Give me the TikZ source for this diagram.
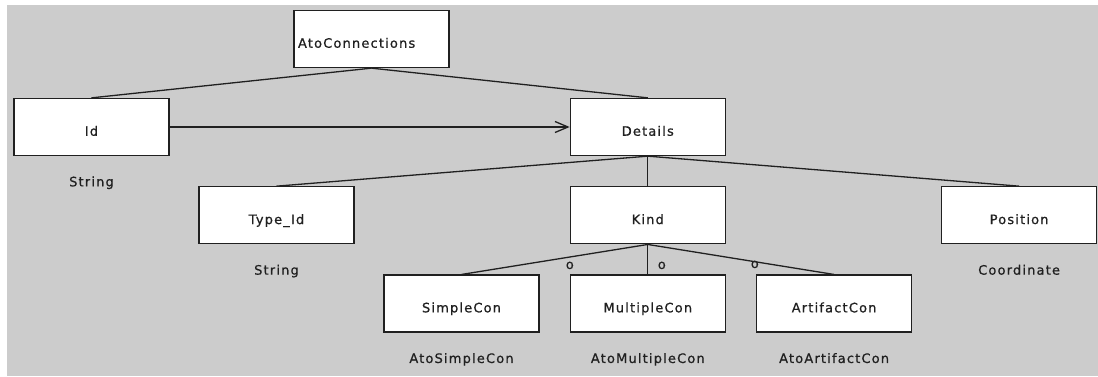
\documentclass[tikz,border=0pt]{standalone}
\usepackage{fontspec}
\newfontfamily\diafont{DejaVu Sans}[LetterSpace=9,FakeBold=0.7]
\usetikzlibrary{arrows.meta,positioning,calc}
\definecolor{canvas}{HTML}{CCCCCC}
\definecolor{ink}{HTML}{202020}
\tikzset{
  blk/.style={draw=ink,fill=white,rectangle,minimum width=155pt,minimum height=57pt,line width=1.3pt,inner sep=0pt,
    text=ink,font=\diafont\fontsize{13}{15}\selectfont,text height=17.5pt,text depth=0pt},
  lbl/.style={text=ink,font=\diafont\fontsize{13}{15}\selectfont,inner sep=0pt,text height=10pt,text depth=3pt},
  omark/.style={lbl,text height=7pt,text depth=0pt},
  link/.style={draw=ink,line width=1.3pt},
  arr/.style={link,-{Straight Barb[length=13pt,width=11pt]}}
}

\begin{document}
\begin{tikzpicture}[x=1pt,y=-1pt,node distance=30pt and 30pt]
  \fill[canvas] (7,5) rectangle (1098,376);
  \useasboundingbox (0,0) rectangle (1098,376);

  \node[blk, text width=147pt, align=left] (conn) at (371.5,39) {AtoConnections};
  \node[blk] (id) at (91.5,127) {Id};
  \node[blk, right=400pt of id] (details) {Details};
  \node[blk, below=of details] (kind) {Kind};
  \node[blk, left=215pt of kind] (typeid) {Type\_Id};
  \node[blk, right=215pt of kind] (position) {Position};
  \node[blk, below=of kind] (multi) {MultipleCon};
  \node[blk, left=of multi] (simple) {SimpleCon};
  \node[blk, right=of multi] (artifact) {ArtifactCon};

  % type names under the boxes
  \node[lbl, below=20pt of id] (idtype) {String};
  \node[lbl, below=20pt of typeid] (typeidtype) {String};
  \node[lbl, below=20pt of position] (postype) {Coordinate};
  \node[lbl, below=20pt of simple] (simpletype) {AtoSimpleCon};
  \node[lbl, below=20pt of multi] (multitype) {AtoMultipleCon};
  \node[lbl, below=20pt of artifact] (artifacttype) {AtoArtifactCon};

  \node[omark] (osimple) at ($(kind.south)+(-78,21)$) {o};
  \node[omark] (omulti) at ($(kind.south)+(14,21)$) {o};
  \node[omark] (oartifact) at ($(kind.south)+(107,20)$) {o};

  \draw[link] (conn.south) -- (id.north);
  \draw[link] (conn.south) -- (details.north);
  \draw[arr] (id) -- (details);
  \foreach \n in {typeid,kind,position}
    \draw[link] (details.south) -- (\n.north);
  \foreach \n in {simple,multi,artifact}
    \draw[link] (kind.south) -- (\n.north);
\end{tikzpicture}
\end{document}
